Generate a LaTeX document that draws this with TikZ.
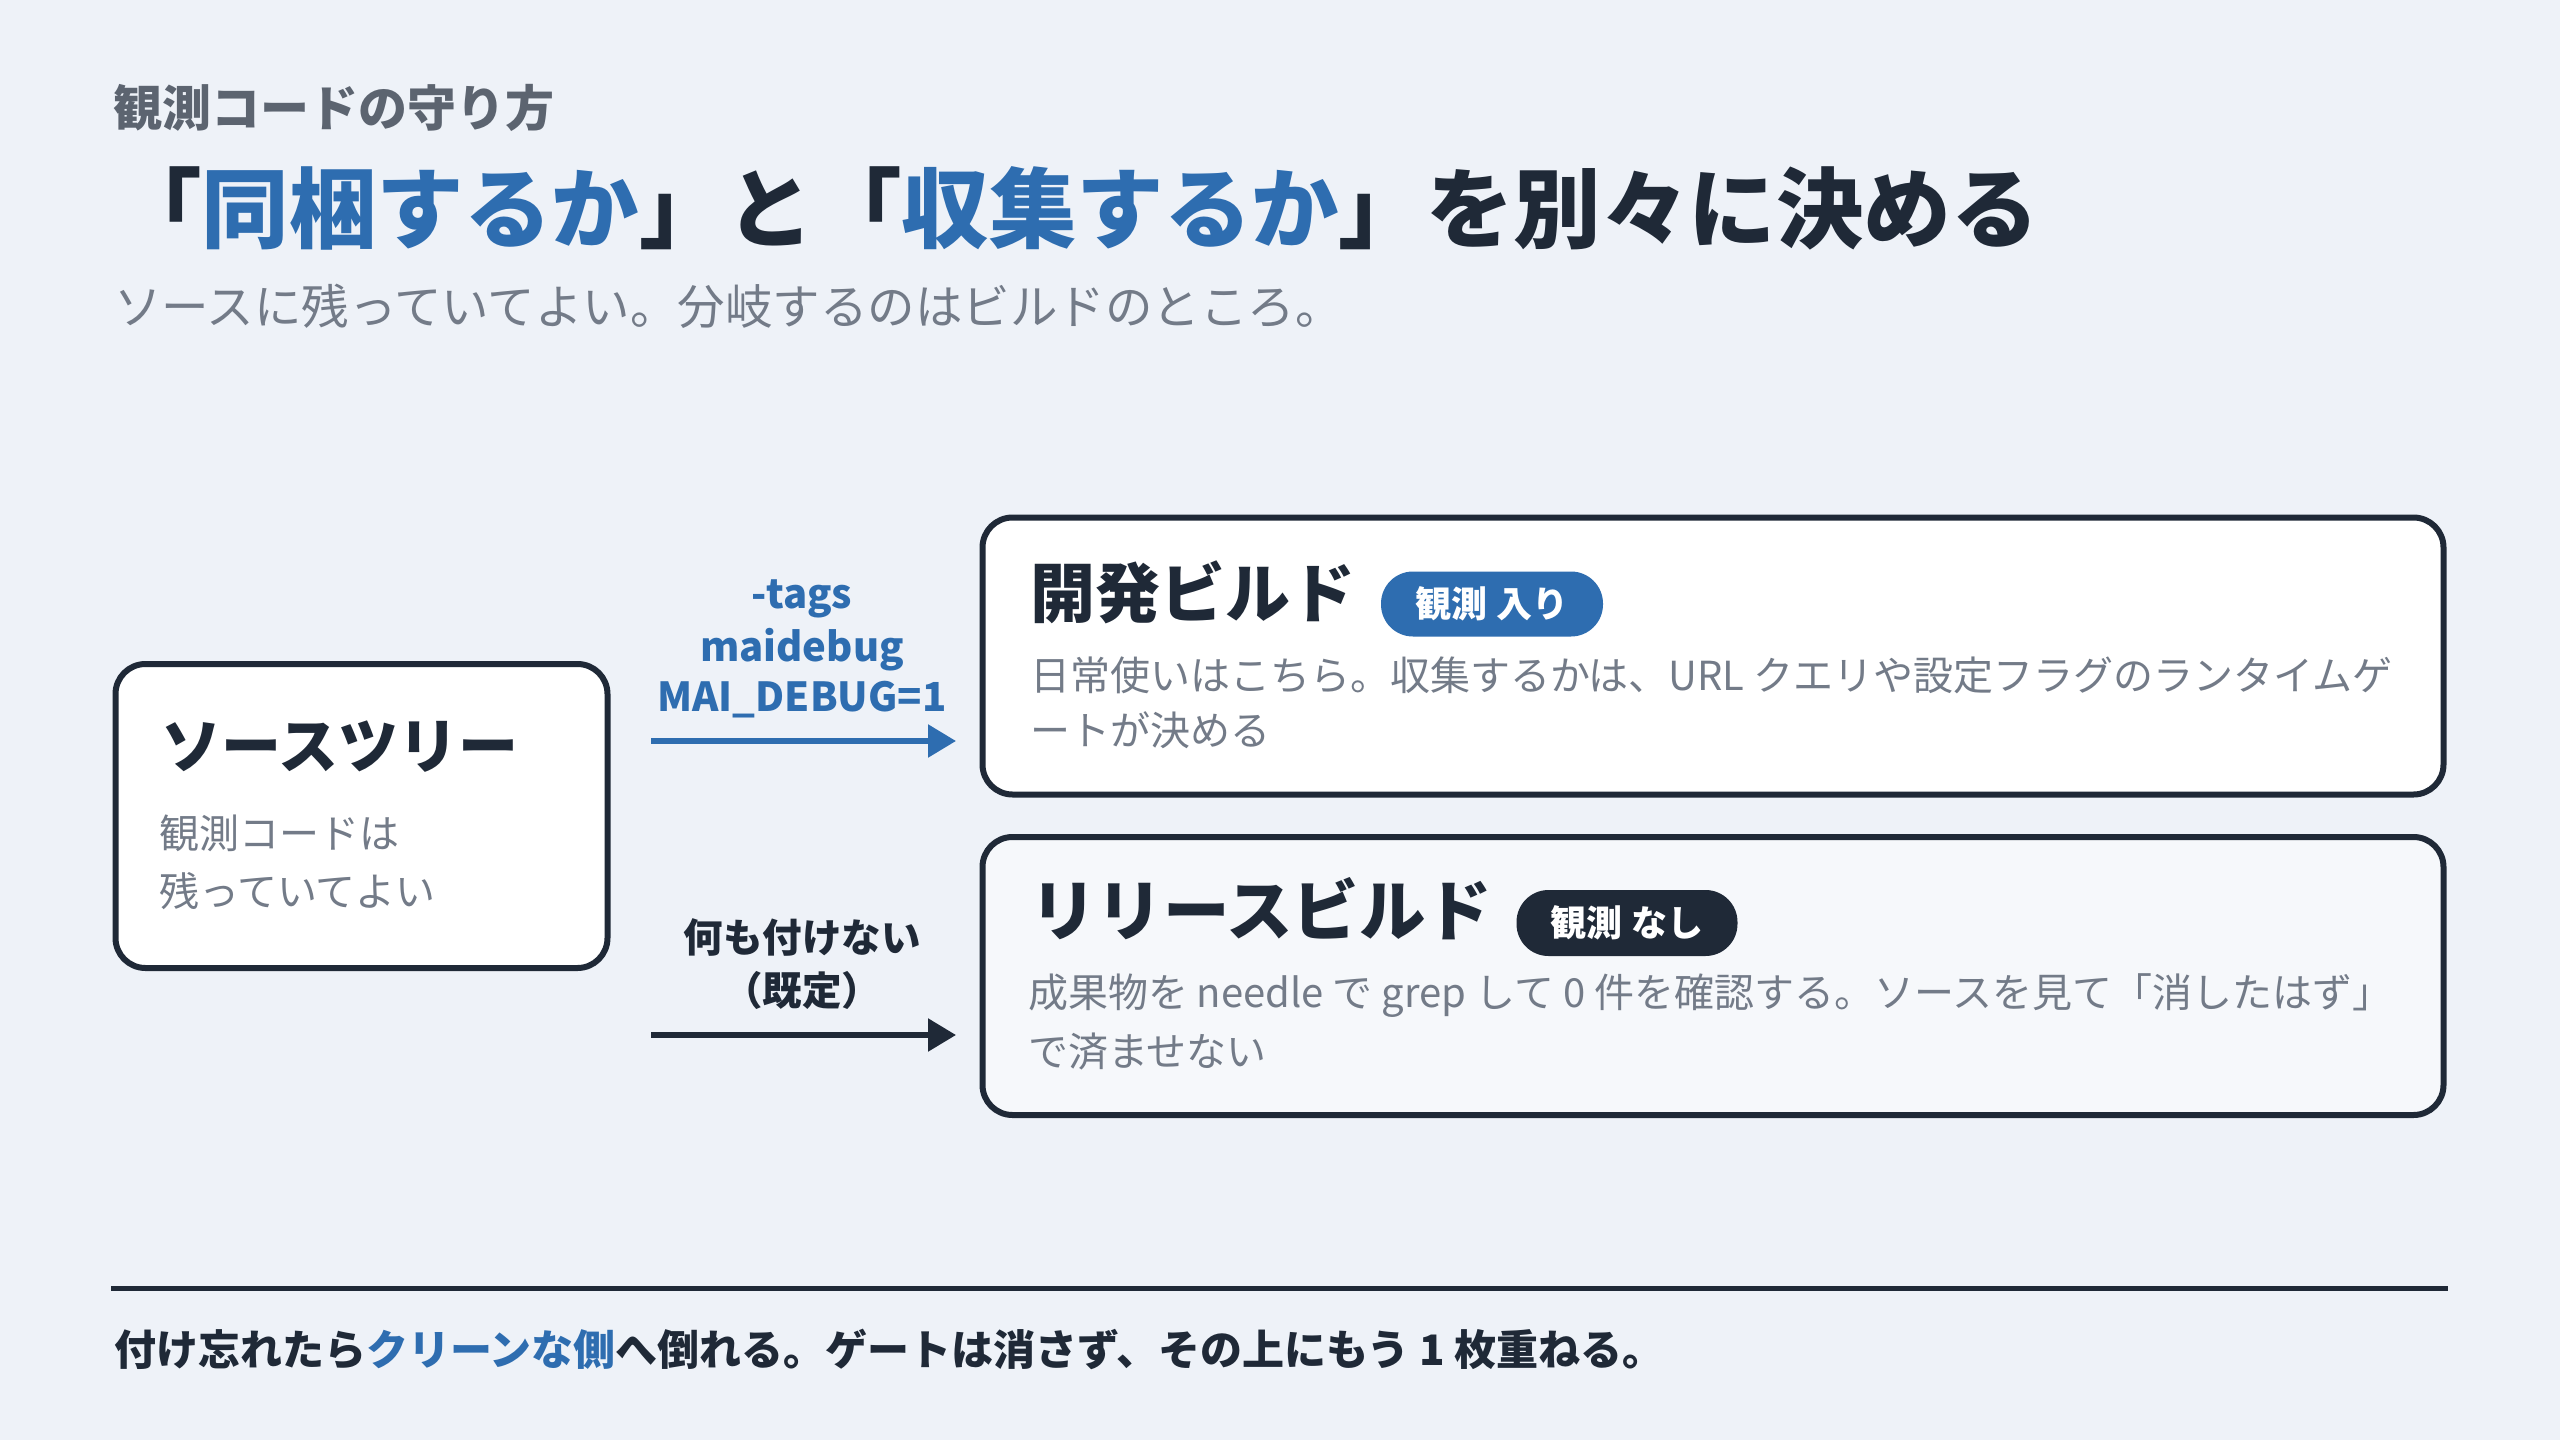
\documentclass[tikz,border=0pt]{standalone}
\usepackage{fontspec}
\setmainfont{Noto Sans CJK JP}
\usetikzlibrary{arrows.meta}
\definecolor{bg}{HTML}{EEF2F8}
\definecolor{ink}{HTML}{1F2937}
\definecolor{accent}{HTML}{2E6DB0}
\definecolor{muted}{HTML}{5C6470}
\definecolor{bodygray}{HTML}{737B88}
\definecolor{relfill}{HTML}{F6F8FB}
\newcommand{\fs}[1]{\fontsize{#1}{#1}\selectfont}
\tikzset{
  txt/.style={anchor=west, inner sep=0pt, outer sep=0pt},
  card/.style={draw=ink, line width=6pt, rounded corners=30pt, inner sep=0pt},
  pill/.style={rounded corners=32pt, inner sep=0pt, text=white, font=\fs{36}\bfseries},
  flow/.style={line width=5.5pt, -{Triangle[length=28pt,width=32pt]}},
}
\begin{document}
\begin{tikzpicture}[x=1pt,y=-1pt]
\fill[bg] (0,0) rectangle (2560,1440);
\useasboundingbox (0,0) rectangle (2560,1440);

% header
\node[txt, text=muted, font=\fs{49}\bfseries] (kicker) at (113,108) {観測コードの守り方};
\node[txt, text=ink, font=\fs{87.5}\bfseries] (title) at (114,208)
  {「\textcolor{accent}{同梱するか}」と「\textcolor{accent}{収集するか}」を別々に決める};
\node[txt, text=bodygray, font=\fs{47.5}] (lede) at (114,306) {ソースに残っていてよい。分岐するのはビルドのところ。};

% source card
\node[card, fill=white, minimum width=492pt, minimum height=304pt] (src) at (361.5,816) {};
\node[txt, text=ink, font=\fs{60}\bfseries] (srct) at (161,747) {ソースツリー};
\node[txt, text=bodygray, font=\fs{40}] (srcb1) at (159,833) {観測コードは};
\node[txt, text=bodygray, font=\fs{40}] (srcb2) at (159,891) {残っていてよい};

% dev card
\node[card, fill=white, minimum width=1461pt, minimum height=277pt] (dev) at (1713,656) {};
\node[txt, text=ink, font=\fs{65}\bfseries] (devt) at (1030,592) {開発ビルド};
\node[pill, fill=accent, minimum width=222pt, minimum height=65pt] (devp) at (1492,604) {観測 入り};
\node[txt, text=bodygray, font=\fs{40}] (devb1) at (1030,675) {日常使いはこちら。収集するかは、URL クエリや設定フラグのランタイムゲ};
\node[txt, text=bodygray, font=\fs{40}] (devb2) at (1030,730) {ートが決める};

% release card
\node[card, fill=relfill, minimum width=1461pt, minimum height=278pt] (rel) at (1713,976) {};
\node[txt, text=ink, font=\fs{66.5}\bfseries] (relt) at (1030,909) {リリースビルド};
\node[pill, fill=ink, minimum width=221pt, minimum height=66pt] (relp) at (1627,923) {観測 なし};
\node[txt, text=bodygray, font=\fs{40}] (relb1) at (1028,996) {成果物を needle で grep して 0 件を確認する。ソースを見て「消したはず」};
\node[txt, text=bodygray, font=\fs{40}] (relb2) at (1028,1051) {で済ませない};

% arrows
\coordinate (a1s) at (651,741);
\coordinate (a1e) at (956,741);
\coordinate (a2s) at (651,1035);
\coordinate (a2e) at (956,1035);
\draw[flow, draw=accent, fill=accent] (a1s) -- (a1e);
\draw[flow, draw=ink, fill=ink] (a2s) -- (a2e);
\node[text=accent, font=\fs{40}\bfseries, inner sep=0pt] (l1) at (802,599) {-tags};
\node[text=accent, font=\fs{40}\bfseries, inner sep=0pt] (l2) at (802,650) {maidebug};
\node[text=accent, font=\fs{40}\bfseries, inner sep=0pt] (l3) at (802,700) {MAI\_DEBUG=1};
\node[text=ink, font=\fs{39.5}\bfseries, inner sep=0pt] (l4) at (802,937) {何も付けない};
\node[text=ink, font=\fs{39.5}\bfseries, inner sep=0pt] (l5) at (802,990) {（既定）};

% footer
\coordinate (rl) at (111,1288);
\coordinate (rr) at (2448,1288);
\draw[ink, line width=5pt] (rl) -- (rr);
\node[txt, text=ink, font=\fs{42}\bfseries] (foot) at (114,1349)
  {付け忘れたら\textcolor{accent}{クリーンな側}へ倒れる。ゲートは消さず、その上にもう 1 枚重ねる。};
\end{tikzpicture}
\end{document}
